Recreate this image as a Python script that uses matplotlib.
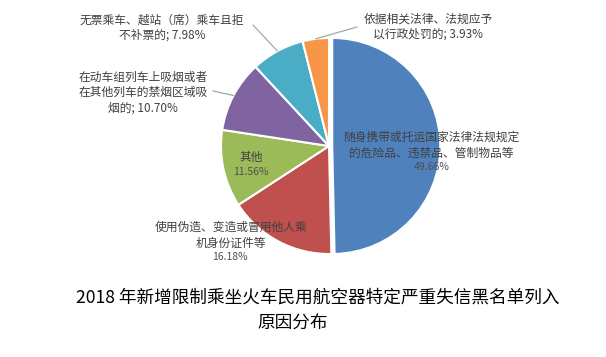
import numpy as np
import matplotlib
matplotlib.use('Agg')
import matplotlib.pyplot as plt

plt.rcParams['font.family'] = ['Noto Sans CJK SC', 'DejaVu Sans']

# Data
names = ['随身携带或托运国家法律法规规定\n的危险品、违禁品、管制物品等',
         '使用伪造、变造或冒用他人乘\n机身份证件等',
         '其他',
         '在动车组列车上吸烟或者\n在其他列车的禁烟区域吸\n烟的',
         '无票乘车、越站（席）乘车且拒\n不补票的',
         '依据相关法律、法规应予\n以行政处罚的']
shares = [49.66, 16.18, 11.56, 10.70, 7.98, 3.93]
colors = ['#4F81BD', '#C0504D', '#9BBB59', '#8064A2', '#4BACC6', '#F79646']
title_lines = ['2018 年新增限制乘坐火车民用航空器特定严重失信黑名单列入', '原因分布']

W, H = 606, 357
fig = plt.figure(figsize=(W / 100, H / 100), dpi=100)
fig.patch.set_facecolor('white')

# pie centre and radius in pixels
cx, cy, r = 329, 146, 108
ax = fig.add_axes([(cx - r) / W, (H - cy - r) / H, 2 * r / W, 2 * r / H])

explode = [0.03, 0, 0, 0, 0, 0]
wedges, _ = ax.pie(shares, colors=colors, startangle=90, counterclock=False,
                   explode=explode, radius=1,
                   wedgeprops=dict(edgecolor='white', linewidth=1.5))
for w in wedges:
    w.set_clip_on(False)
ax.set_xlim(-1, 1)
ax.set_ylim(-1, 1)
ax.axis('off')

txt = '#404040'
pct_col = '#505050'

def px(x, y):
    return x / W, 1 - y / H

def label(x, y, s, size=8.5, color=txt):
    fig.text(*px(x, y), s, ha='center', va='center', fontsize=size,
             color=color, linespacing=1.25)

# inside / free labels
label(431, 145.5, names[0])
label(432, 167, f'{shares[0]:.2f}%', size=7.5, color=pct_col)
label(231, 235.5, names[1])
label(230, 257, f'{shares[1]:.2f}%', size=7.5, color=pct_col)
label(251, 157, names[2])
label(251, 172, f'{shares[2]:.2f}%', size=7.5, color=pct_col)

# outside labels with leader lines
label(143, 92.5, names[3] + f'; {shares[3]:.2f}%')
label(162, 27.5, names[4] + f'; {shares[4]:.2f}%')
label(428, 26.5, names[5] + f'; {shares[5]:.2f}%')

ends = {3: (213, 91), 4: (253, 25), 5: (357, 27)}
for i, (ex, ey) in ends.items():
    w = wedges[i]
    mid = np.deg2rad((w.theta1 + w.theta2) / 2)
    ax.annotate('', xy=(np.cos(mid), np.sin(mid)), xycoords='data',
                xytext=(ex, H - ey), textcoords='figure pixels',
                arrowprops=dict(arrowstyle='-', color='#a6a6a6', lw=0.9,
                                shrinkA=0, shrinkB=0))

fig.text(*px(318, 298), title_lines[0], ha='center', va='center',
         fontsize=12.7, color='black', fontweight='medium')
fig.text(*px(293, 324), title_lines[1], ha='center', va='center',
         fontsize=12.7, color='black', fontweight='medium')

fig.savefig('out.png', dpi=100)
